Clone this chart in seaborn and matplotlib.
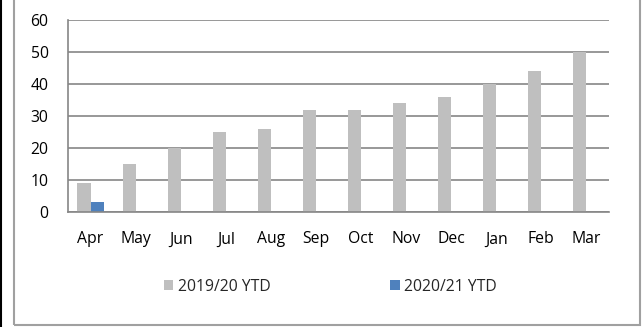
import matplotlib
matplotlib.use("Agg")
import matplotlib.pyplot as plt
from matplotlib.patches import Rectangle
from matplotlib.lines import Line2D
import numpy as np
import pandas as pd
import seaborn as sns

months = ["Apr", "May", "Jun", "Jul", "Aug", "Sep", "Oct", "Nov", "Dec", "Jan", "Feb", "Mar"]
ytd_2019_20 = [9, 15, 20, 25, 26, 32, 32, 34, 36, 40, 44, 50]
ytd_2020_21 = [3, None, None, None, None, None, None, None, None, None, None, None]
series_names = ["2019/20 YTD", "2020/21 YTD"]
colors = ["#BFBFBF", "#4F81BD"]
y_ticks = [0, 10, 20, 30, 40, 50, 60]

df = pd.DataFrame({
    "month": months * 2,
    "value": ytd_2019_20 + ytd_2020_21,
    "series": [series_names[0]] * len(months) + [series_names[1]] * len(months),
})

sns.set_style("white")
plt.rcParams["font.family"] = ["Open Sans", "DejaVu Sans"]

W, H = 643, 327
fs = 11.3
fig = plt.figure(figsize=(W / 100, H / 100), dpi=100)
ax = fig.add_axes([68 / W, 1 - 212 / H, (609 - 68) / W, (212 - 20) / H])

sns.barplot(data=df, x="month", y="value", hue="series", order=months,
            hue_order=series_names, palette=colors, width=0.58,
            saturation=1, errorbar=None, legend=False, linewidth=0, ax=ax)

grid_c = "#868686"
ax.set_ylim(0, 60)
ax.set_xlim(-0.5, len(months) - 0.5)
ax.set_yticks(y_ticks)
ax.yaxis.grid(True, color=grid_c, linewidth=1.2)
ax.set_axisbelow(True)
for s in ["top", "right"]:
    ax.spines[s].set_visible(False)
for s in ["left", "bottom"]:
    ax.spines[s].set_color(grid_c)
    ax.spines[s].set_linewidth(1.2)
ax.set_xlabel("")
ax.set_ylabel("")
ax.tick_params(axis="y", length=5, width=1.2, color=grid_c, labelsize=fs, pad=9, labelcolor="black")
ax.tick_params(axis="x", which="major", length=0, labelsize=fs, pad=14, labelcolor="black")
ax.set_xticks(np.arange(-0.5, len(months), 1), minor=True)
ax.tick_params(axis="x", which="minor", length=5, width=1.2, color=grid_c)

# legend below the plot
handles = [Rectangle((0, 0), 1, 1, facecolor=c, edgecolor="none") for c in colors]
fig.legend(handles, series_names, loc="center left", bbox_to_anchor=(164 / W, 1 - 287 / H),
           frameon=False, ncol=2, fontsize=fs, handlelength=0.6, handleheight=0.6,
           handletextpad=0.3, columnspacing=7.6, borderpad=0, borderaxespad=0)

# outer frame
fig.patches.append(Rectangle((14 / W, 2 / H), 626 / W, 1.2, transform=fig.transFigure,
                             fill=False, edgecolor="#A0A0A0", linewidth=1.5))
fig.lines.append(Line2D([1 / W, 1 / W], [0, 1], transform=fig.transFigure, color="black", linewidth=1.5))

fig.savefig("out.png", dpi=100)
